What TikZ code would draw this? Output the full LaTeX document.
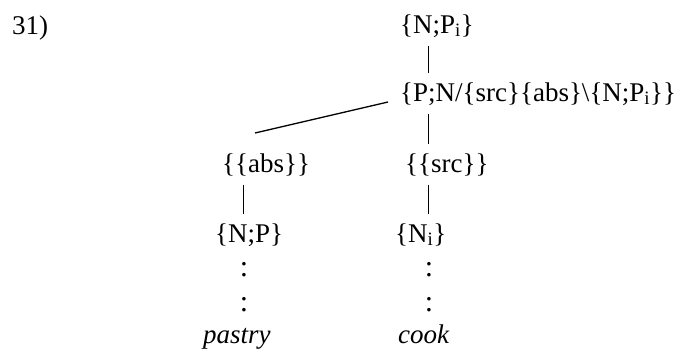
\documentclass[tikz,border=0pt]{standalone}
\usepackage{fontspec}
\setmainfont{Liberation Serif}
\tikzset{branch/.style={line width=0.7pt, shorten <=9pt, shorten >=9pt}}
\tikzset{slant/.style={line width=1.3pt}}
\tikzset{elide/.style={anchor=center, font=\fontsize{30}{34}\selectfont}}

\begin{document}
\begin{tikzpicture}[x=1pt, y=-1pt]
	% Default action for each node
	\tikzstyle{every node}=[inner sep=0pt, anchor=base west, font=\fontsize{27}{32}\selectfont];
	\useasboundingbox (0,0) rectangle (693,354);

	\node (num) at (12,34) {31)};
	\node (top) at (400,33) {\{N;P\textsubscript{i}\}};
	\node (mid) at (400,101) {\{P;N/\{src\}\{abs\}\textbackslash\{N;P\textsubscript{i}\}\}};
	\node (abs) at (222,172) {\{\{abs\}\}};		\node (src) at (405,172) {\{\{src\}\}};
	\node (np) at (215,242) {\{N;P\}};			\node (ni) at (395,242) {\{N\textsubscript{i}\}};
	\node[elide] (npdotsa) at (244,270) {:};	\node[elide] (nidotsa) at (429,270) {:};
	\node[elide] (npdotsb) at (244,305) {:};	\node[elide] (nidotsb) at (429,305) {:};
	\node (pastry) at (203,343) {\textit{pastry}};	\node (cook) at (398,343) {\textit{cook}};

	\coordinate (left) at (243,0);
	\coordinate (right) at (428,0);

	% Verticals
	\draw[branch] (top.south -| right) -- (mid.north -| right);
	\draw[branch] (mid.south -| right) -- (src.north -| right);
	\draw[branch] (abs.south -| left) -- (np.north -| left);
	\draw[branch] (src.south -| right) -- (ni.north -| right);

	% Slanted branch
	\draw[slant] ([shift={(-12,1)}]mid.base west) -- ([shift={(33,-39)}]abs.base west);
\end{tikzpicture}
\end{document}
